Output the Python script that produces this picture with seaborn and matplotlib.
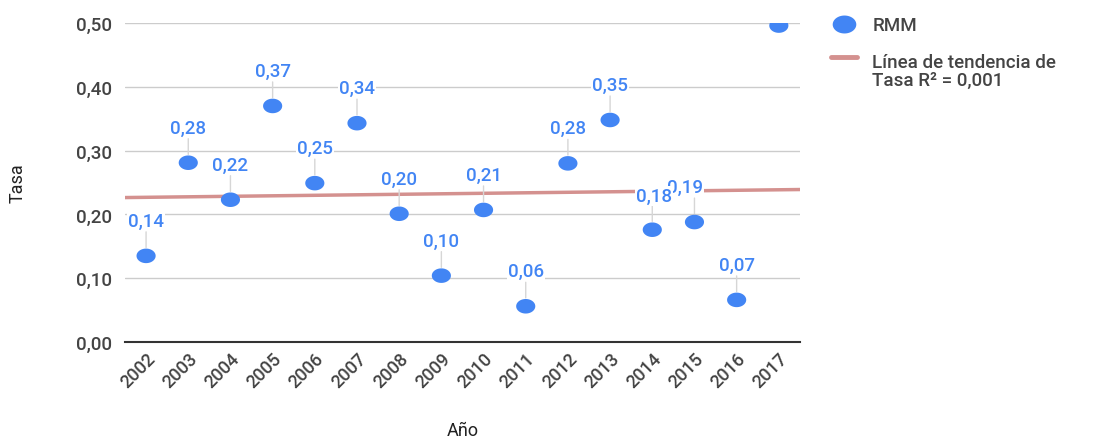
import numpy as np
import matplotlib
matplotlib.use("Agg")
import matplotlib.pyplot as plt
import seaborn as sns
from matplotlib.path import Path
from matplotlib.lines import Line2D
from matplotlib.legend_handler import HandlerLine2D

# data
years = ["2002", "2003", "2004", "2005", "2006", "2007", "2008", "2009",
         "2010", "2011", "2012", "2013", "2014", "2015", "2016", "2017"]
tasa = [0.135, 0.281, 0.223, 0.370, 0.249, 0.343, 0.201, 0.104,
        0.207, 0.056, 0.280, 0.348, 0.176, 0.188, 0.066, 0.496]
# label offsets in pixels (dx, dy) where google charts nudged them
label_shift = {"2014": (2, -1), "2015": (-9, 0)}
yticks = [0.0, 0.1, 0.2, 0.3, 0.4, 0.5]

BLUE = "#4285f4"
TREND = "#d4918f"
GREY = "#444444"


class TopLineHandler(HandlerLine2D):
    # put the legend line next to the first text line, like google charts
    def create_artists(self, legend, orig_handle, xdescent, ydescent,
                       width, height, fontsize, trans):
        arts = super().create_artists(legend, orig_handle, xdescent, ydescent,
                                      width, height, fontsize, trans)
        for a in arts:
            a.set_ydata(np.asarray(a.get_ydata()) + height * 0.5 + fontsize * 0.4)
        return arts


sns.set_style("white")
plt.rcParams["font.family"] = ["Roboto", "DejaVu Sans"]
plt.rcParams["font.weight"] = "medium"

fig = plt.figure(figsize=(11.11, 4.39), dpi=100)
ax = fig.add_axes([0.1125, 0.2187, 0.6075, 0.7266])

x = np.arange(len(years))
y = np.array(tasa)

# ellipse marker (the original is stretched horizontally)
t = np.linspace(0, 2 * np.pi, 60)
ell = Path(np.column_stack([np.cos(t), 0.76 * np.sin(t)]), closed=True)

# trend line
slope, icept = np.polyfit(x, y, 1)
xl = np.array([-0.5, len(years) - 0.5])
sns.lineplot(x=xl, y=slope * xl + icept, ax=ax, color=TREND, lw=2.5, zorder=2)

sns.scatterplot(x=x, y=y, ax=ax, color=BLUE, marker=ell, s=190,
                edgecolor="none", zorder=4)

# data labels with leader lines
for i, (yr, v) in enumerate(zip(years, tasa)):
    if yr == "2017":
        continue
    dx, dy = label_shift.get(yr, (0, 0))
    z = 6 if yr == "2014" else 5
    ax.annotate(f"{v:.2f}".replace(".", ","), xy=(i, v),
                xytext=(dx * 0.72, (35 + dy) * 0.72), textcoords="offset points",
                ha="center", va="center", fontsize=13.5, color=BLUE, zorder=z,
                bbox=dict(boxstyle="square,pad=0.05", fc="white", ec="none"))
    ax.annotate("", xy=(i, v), xytext=(0, 24 * 0.72), textcoords="offset points",
                xycoords="data",
                arrowprops=dict(arrowstyle="-", color="#d6d6d6", lw=1,
                                shrinkA=0, shrinkB=6), zorder=3)

ax.set_xlim(-0.5, len(years) - 0.5)
ax.set_ylim(0, 0.5)
ax.set_xticks(x)
ax.set_xticklabels(years, rotation=45, ha="right", rotation_mode="anchor",
                   fontsize=13, color=GREY)
ax.set_yticks(yticks)
ax.set_yticklabels([f"{v:.2f}".replace(".", ",") for v in yticks],
                   fontsize=13.5, color=GREY)
ax.tick_params(axis="y", length=0, pad=9)
ax.tick_params(axis="x", length=0, pad=5)
ax.yaxis.grid(True, color="#cccccc", lw=1)
ax.set_axisbelow(True)
for s in ["top", "right", "left"]:
    ax.spines[s].set_visible(False)
ax.spines["bottom"].set_color("#333333")
ax.spines["bottom"].set_linewidth(1.5)
ax.spines["bottom"].set_zorder(1)

ax.set_xlabel("Año", fontsize=13, color="#222222", labelpad=22)
ax.set_ylabel("Tasa", fontsize=13, color="#222222", labelpad=36)

handles = [
    Line2D([], [], marker=ell, color=BLUE, ls="none", markersize=17,
           markeredgecolor="none"),
    Line2D([], [], color=TREND, lw=3.5),
]
leg = ax.legend(handles, ["RMM", "Línea de tendencia de\nTasa R² = 0,001"],
                loc="upper left", bbox_to_anchor=(1.035, 1.045), frameon=False,
                fontsize=13.5, labelcolor=GREY, handlelength=1.4,
                handletextpad=0.8, labelspacing=1.02, borderaxespad=0,
                handler_map={handles[1]: TopLineHandler()})
for txt in leg.get_texts():
    txt.set_linespacing(0.95)

fig.savefig("out.png", dpi=100)
